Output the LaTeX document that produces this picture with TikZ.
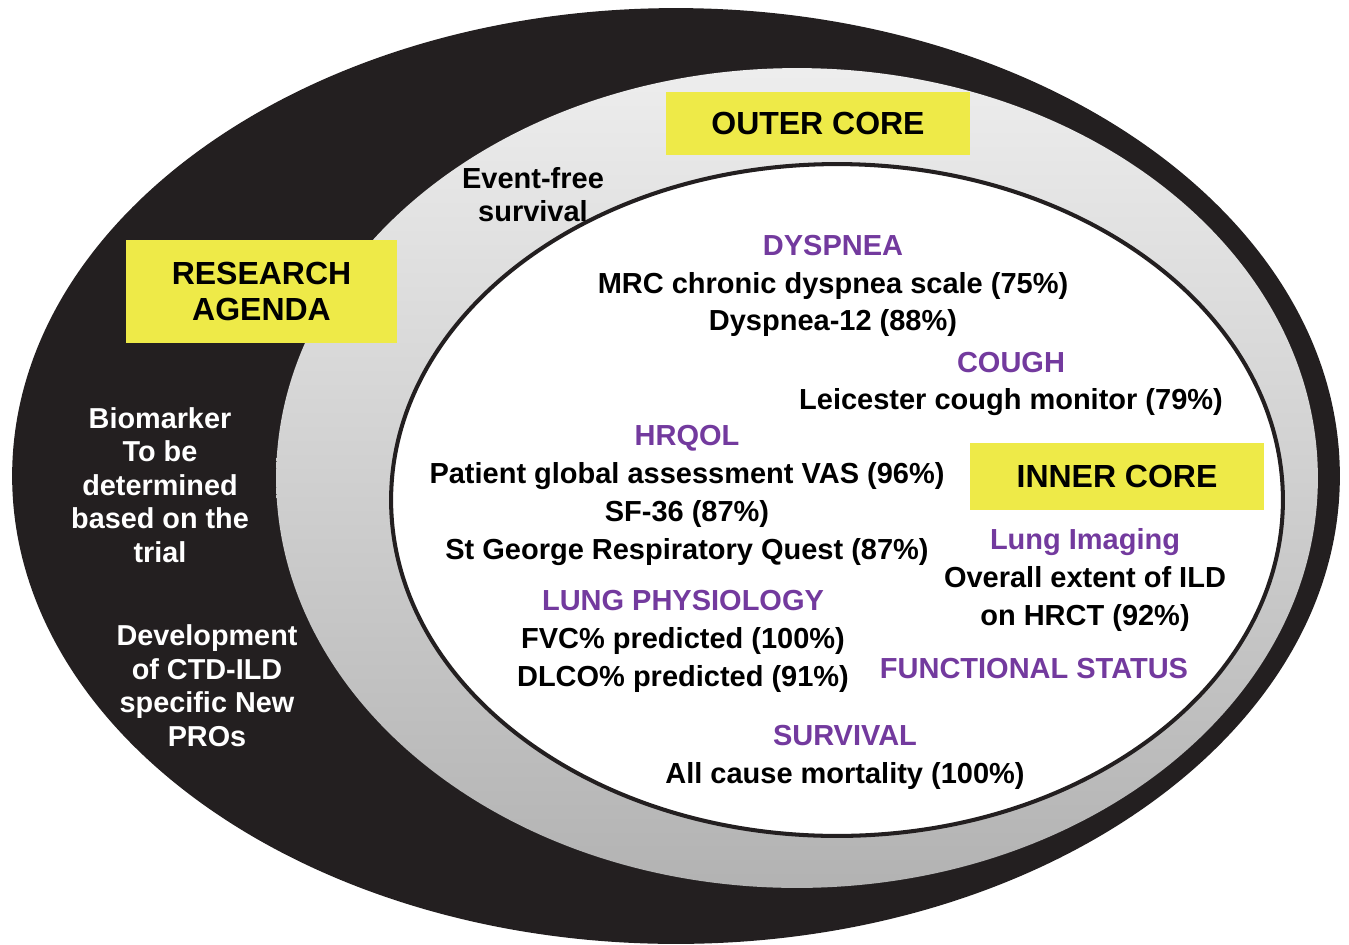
\documentclass[tikz,border=0pt]{standalone}
\usepackage{fontspec}
\setmainfont{Liberation Sans}
\usepackage{tikz}
\usetikzlibrary{positioning}

\definecolor{ringblack}{RGB}{35,31,32}
\definecolor{coreyel}{RGB}{238,234,72}
\definecolor{hdpurp}{RGB}{115,58,158}
\newcommand{\hd}[1]{\textcolor{hdpurp}{#1}}

\begin{document}
\begin{tikzpicture}[
		x=0.02cm, y=-0.02cm
		,every node/.append style={inner sep=0pt, align=center}
		,grp/.style={font=\bfseries\fontsize{16.5}{21.5}\selectfont}
		,side/.style={font=\bfseries\fontsize{16.4}{19.1}\selectfont, text=white}
		,corebox/.style={fill=coreyel, font=\bfseries\fontsize{18.2}{21}\selectfont}
	]
		\useasboundingbox (0,0) rectangle (1349,944);
		% rings
		\fill [ringblack] (676,476) ellipse [x radius=13.28cm, y radius=9.36cm];
		\shade [top color=black!7, bottom color=black!30] (797,478) ellipse [x radius=10.42cm, y radius=8.2cm];
		\filldraw [fill=white, draw=ringblack, line width=2.3pt] (837,500) ellipse [x radius=8.92cm, y radius=6.72cm];

		% labels of the rings
		\node [corebox, minimum width=6.08cm, minimum height=1.26cm] (outer) at (818,123.5) {OUTER CORE};
		\node [corebox, minimum width=5.42cm, minimum height=2.06cm] (agenda) at (261.5,291.5) {RESEARCH\\AGENDA};
		\node [corebox, minimum width=5.88cm, minimum height=1.34cm] (inner) at (1117,476.5) {INNER CORE};

		% research agenda
		\node [side] (biom) at (160,485) {Biomarker\\To be\\determined\\based on the\\trial};
		\node [side] (devel) at (207,685.5) {Development\\of CTD-ILD\\specific New\\PROs};

		% outer core
		\node [grp, font=\bfseries\fontsize{16.5}{18.7}\selectfont] (event) at (533,194.5) {Event-free\\survival};

		% inner core
		\node [grp] (dysp) at (833,286) {\hd{DYSPNEA}\\MRC chronic dyspnea scale (75\%)\\Dyspnea-12 (88\%)};
		\node [grp] (cough) at (1011,384) {\hd{COUGH}\\Leicester cough monitor (79\%)};
		\node [grp] (hrqol) at (687,495.5) {\hd{HRQOL}\\Patient global assessment VAS (96\%)\\SF-36 (87\%)\\St George Respiratory Quest (87\%)};
		\node [grp] (phys) at (683,641.5) {\hd{LUNG PHYSIOLOGY}\\FVC\% predicted (100\%)\\DLCO\% predicted (91\%)};
		\node [grp] (imag) at (1085,580) {\hd{Lung Imaging}\\Overall extent of ILD\\on HRCT (92\%)};
		\node [grp, text=hdpurp] (func) at (1034,669) {FUNCTIONAL STATUS};
		\node [grp] (surv) at (845,757) {\hd{SURVIVAL}\\All cause mortality (100\%)};
	\end{tikzpicture}
\end{document}
